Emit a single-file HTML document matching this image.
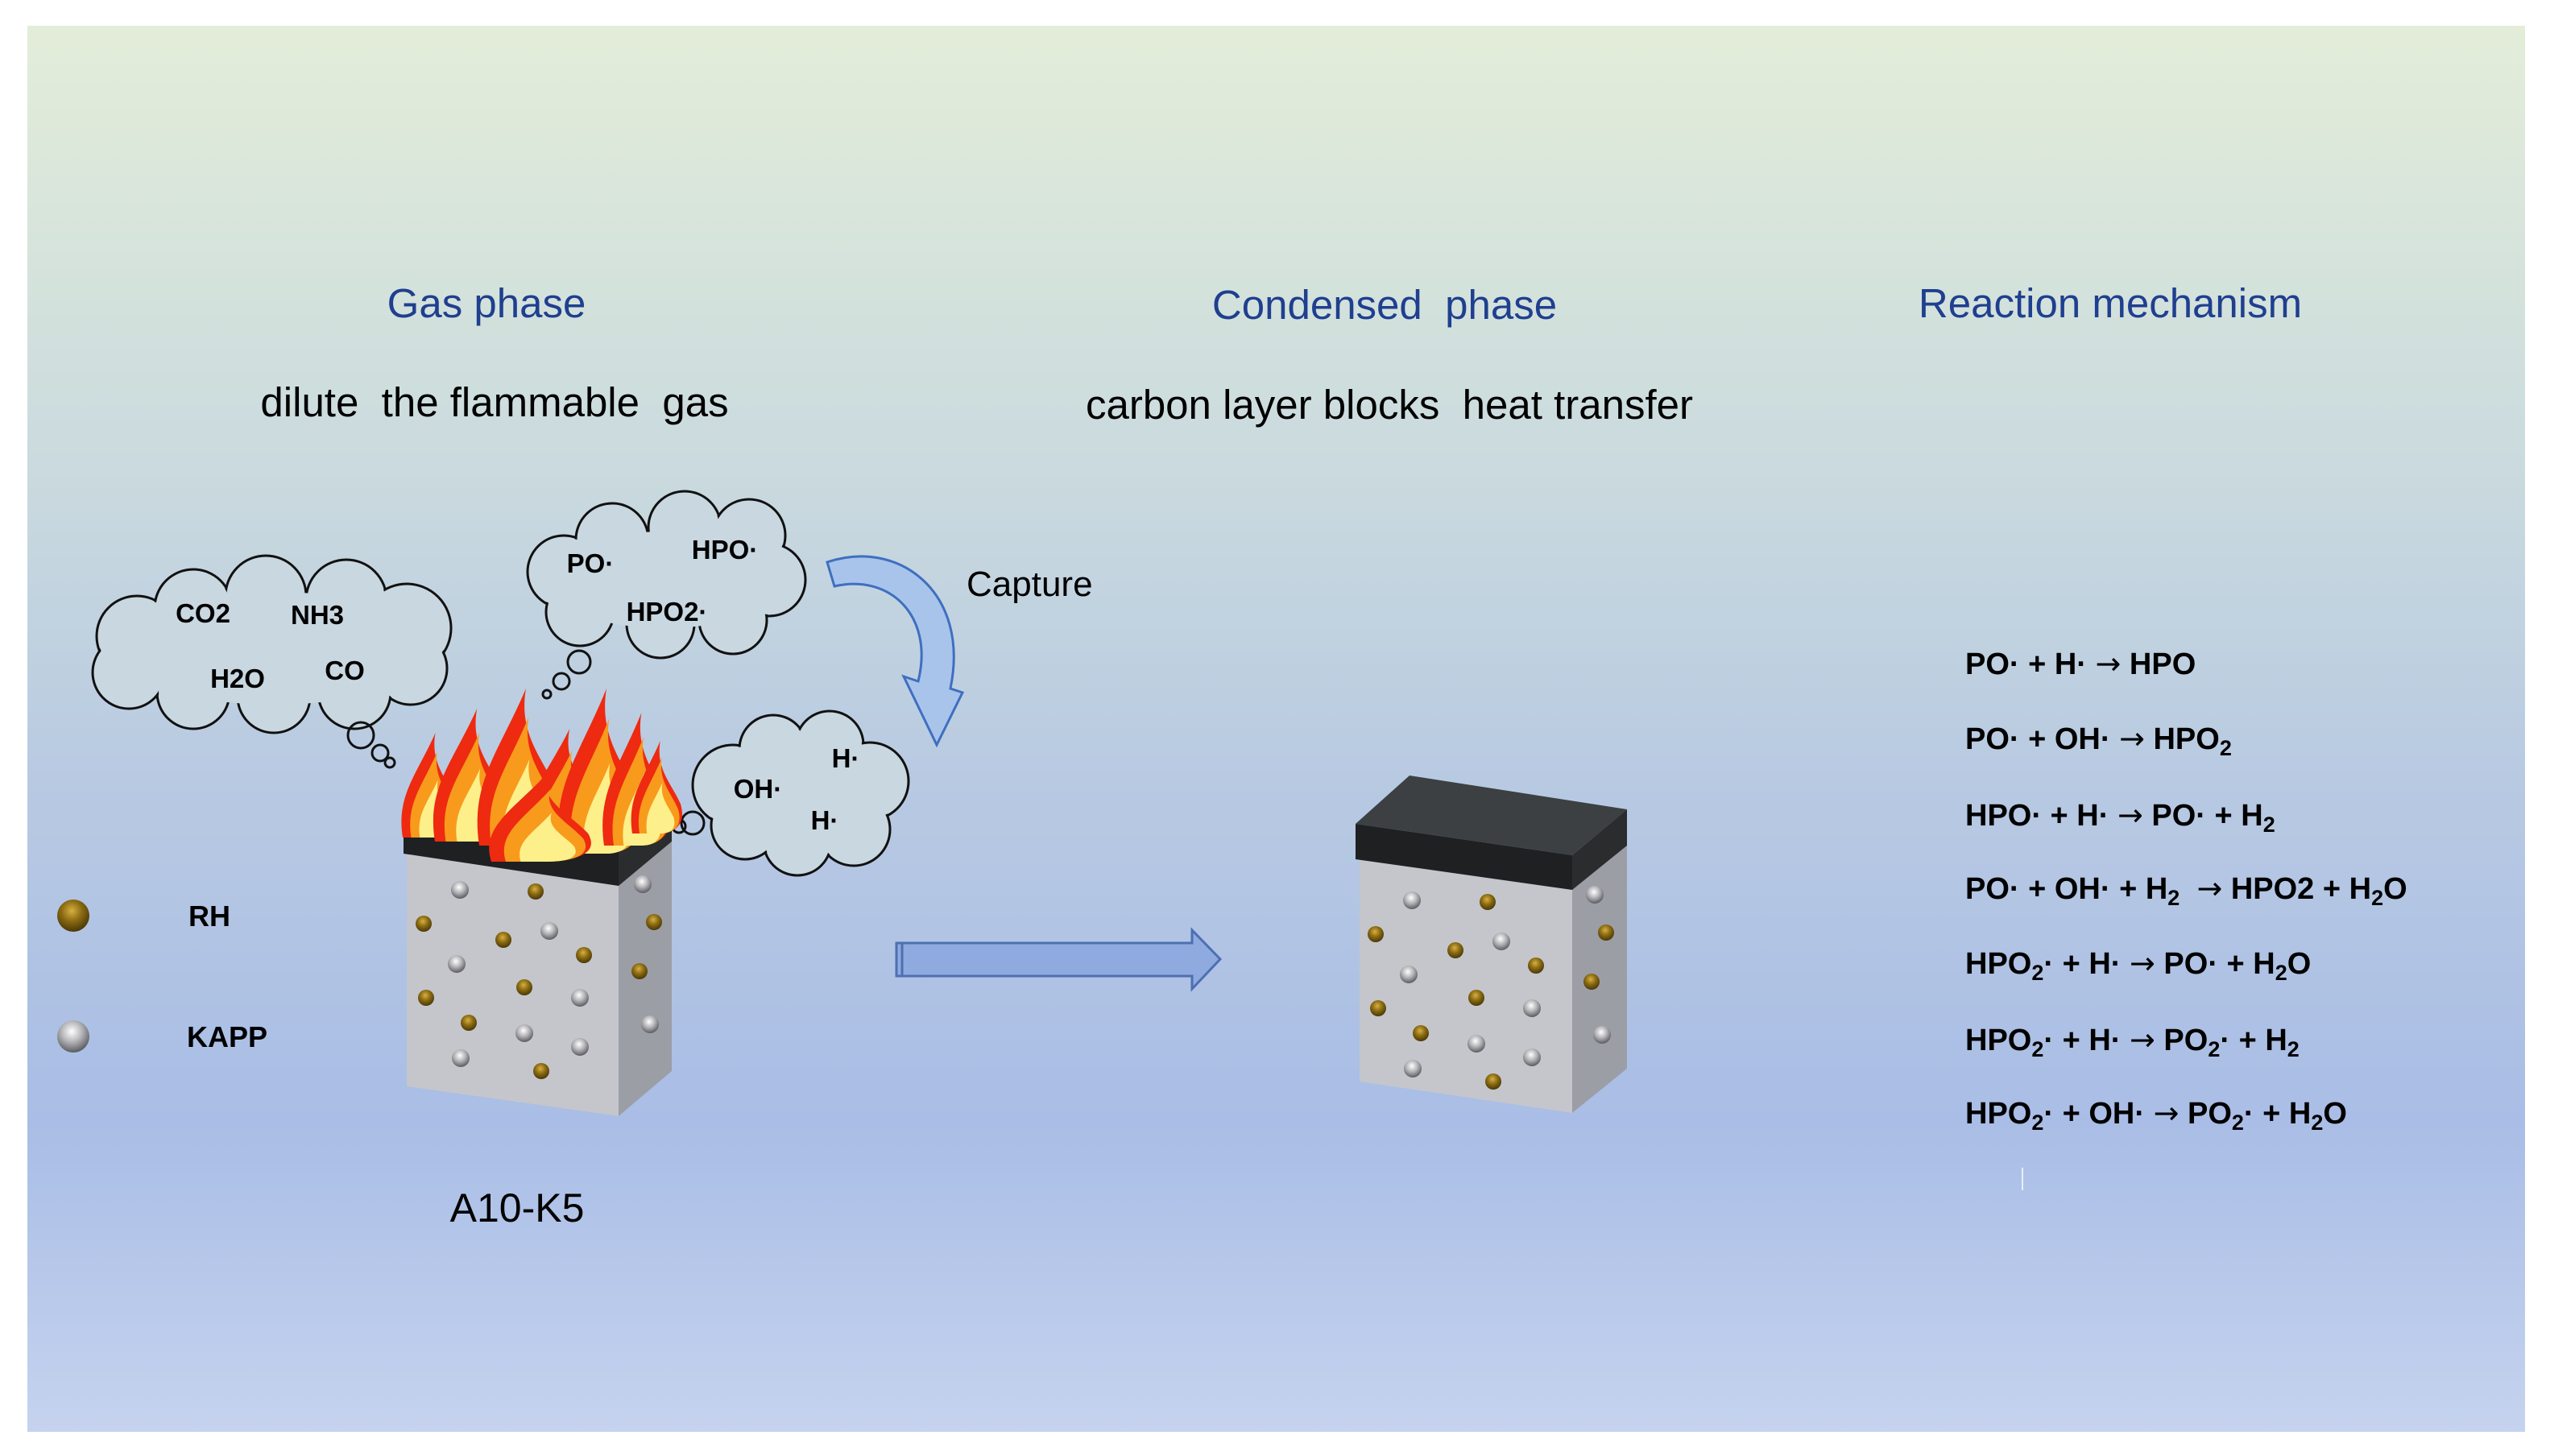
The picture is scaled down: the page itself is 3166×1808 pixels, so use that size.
<!DOCTYPE html>
<html><head><meta charset="utf-8"><style>
html,body{margin:0;padding:0;background:#fff;}
svg{display:block;}
text{font-family:"Liberation Sans",Arial,sans-serif;}
.ar{font-family:"DejaVu Sans",sans-serif;font-weight:normal;}
</style></head><body>
<svg width="3166" height="1808" viewBox="0 0 3166 1808" xmlns="http://www.w3.org/2000/svg">
<defs>
<linearGradient id="bg" x1="0" y1="0" x2="0" y2="1">
<stop offset="0" stop-color="#e3edd9"/>
<stop offset="0.3" stop-color="#cbdbde"/>
<stop offset="0.55" stop-color="#b7c9e2"/>
<stop offset="0.78" stop-color="#a9bde6"/>
<stop offset="1" stop-color="#c5d3ee"/>
</linearGradient>
<radialGradient id="gold" cx="0.45" cy="0.35" r="0.65">
<stop offset="0" stop-color="#d6b040"/><stop offset="0.5" stop-color="#8a6a12"/><stop offset="1" stop-color="#4a3806"/>
</radialGradient>
<radialGradient id="silv" cx="0.45" cy="0.35" r="0.65">
<stop offset="0" stop-color="#ffffff"/><stop offset="0.5" stop-color="#b4b4b8"/><stop offset="1" stop-color="#5a5a60"/>
</radialGradient>
<path id="fl" d="M-0.5,0 C-0.62,-0.4 -0.25,-0.6 0.08,-1 C-0.02,-0.7 0.3,-0.55 0.5,-0.32 C0.62,-0.1 0.4,0 0,0 Z"/>
<g id="flame">
<use href="#fl" fill="#ee2a10"/>
<use href="#fl" fill="#f89a1c" transform="translate(0.05,0) scale(0.8,0.82)"/>
<use href="#fl" fill="#fdf08a" transform="translate(0.08,0) scale(0.55,0.55)"/>
</g>
<g id="dots">
<g fill="url(#gold)">
<circle cx="1847" cy="1120" r="10"/><circle cx="1708" cy="1160" r="10"/><circle cx="1807" cy="1180" r="10"/><circle cx="1907" cy="1199" r="10"/><circle cx="1994" cy="1158" r="10"/><circle cx="1976" cy="1219" r="10"/><circle cx="1833" cy="1239" r="10"/><circle cx="1711" cy="1252" r="10"/><circle cx="1764" cy="1283" r="10"/><circle cx="1854" cy="1343" r="10"/>
</g>
<g fill="url(#silv)">
<circle cx="1753" cy="1118" r="11"/><circle cx="1864" cy="1169" r="11"/><circle cx="1749" cy="1210" r="11"/><circle cx="1980" cy="1111" r="11"/><circle cx="1902" cy="1252" r="11"/><circle cx="1833" cy="1296" r="11"/><circle cx="1989" cy="1285" r="11"/><circle cx="1902" cy="1313" r="11"/><circle cx="1754" cy="1327" r="11"/>
</g>
</g>
</defs>
<rect x="0" y="0" width="3166" height="1808" fill="#fff"/>
<rect x="34" y="32" width="3101" height="1746" fill="url(#bg)"/>

<!-- titles -->
<g fill="#1f3f8f" font-size="51" text-anchor="middle">
<text x="604" y="394">Gas phase</text>
<text x="1719" y="396">Condensed&#160; phase</text>
<text x="2620" y="394">Reaction mechanism</text>
</g>
<g fill="#000" font-size="51" text-anchor="middle">
<text x="614" y="517">dilute&#160; the flammable&#160; gas</text>
<text x="1725" y="520">carbon layer blocks&#160; heat transfer</text>
<text x="1200" y="740" text-anchor="start" font-size="44">Capture</text>
<text x="642" y="1517" font-size="50">A10-K5</text>
</g>

<!-- legend -->
<circle cx="91" cy="1137" r="20" fill="url(#gold)"/>
<circle cx="91" cy="1287" r="20" fill="url(#silv)"/>
<g font-size="36" font-weight="bold" fill="#000">
<text x="234" y="1150">RH</text>
<text x="232" y="1300">KAPP</text>
</g>

<!-- clouds -->
<g stroke="#111" stroke-width="3" fill="#c8d7e0">
<g>
<circle cx="170" cy="790" r="50"/><circle cx="240" cy="755" r="48"/><circle cx="330" cy="740" r="50"/><circle cx="430" cy="745" r="50"/><circle cx="505" cy="780" r="55"/><circle cx="510" cy="830" r="45"/><circle cx="440" cy="860" r="45"/><circle cx="340" cy="865" r="45"/><circle cx="240" cy="860" r="45"/><circle cx="160" cy="835" r="45"/>
</g>
<g>
<circle cx="700" cy="710" r="45"/><circle cx="760" cy="670" r="45"/><circle cx="850" cy="655" r="45"/><circle cx="930" cy="665" r="45"/><circle cx="955" cy="720" r="45"/><circle cx="910" cy="770" r="42"/><circle cx="820" cy="775" r="42"/><circle cx="720" cy="760" r="42"/>
</g>
<g>
<circle cx="910" cy="975" r="50"/><circle cx="960" cy="930" r="42"/><circle cx="1030" cy="925" r="42"/><circle cx="1080" cy="970" r="48"/><circle cx="1060" cy="1030" r="45"/><circle cx="990" cy="1045" r="42"/><circle cx="925" cy="1025" r="42"/>
</g>
</g>
<g fill="#c8d7e0">
<circle cx="170" cy="790" r="48"/><circle cx="240" cy="755" r="46"/><circle cx="330" cy="740" r="48"/><circle cx="430" cy="745" r="48"/><circle cx="505" cy="780" r="53"/><circle cx="510" cy="830" r="43"/><circle cx="440" cy="860" r="43"/><circle cx="340" cy="865" r="43"/><circle cx="240" cy="860" r="43"/><circle cx="160" cy="835" r="43"/>
<ellipse cx="340" cy="805" rx="200" ry="70"/>
<circle cx="700" cy="710" r="43"/><circle cx="760" cy="670" r="43"/><circle cx="850" cy="655" r="43"/><circle cx="930" cy="665" r="43"/><circle cx="955" cy="720" r="43"/><circle cx="910" cy="770" r="40"/><circle cx="820" cy="775" r="40"/><circle cx="720" cy="760" r="40"/>
<ellipse cx="825" cy="720" rx="150" ry="60"/>
<circle cx="910" cy="975" r="48"/><circle cx="960" cy="930" r="40"/><circle cx="1030" cy="925" r="40"/><circle cx="1080" cy="970" r="46"/><circle cx="1060" cy="1030" r="43"/><circle cx="990" cy="1045" r="40"/><circle cx="925" cy="1025" r="40"/>
<ellipse cx="995" cy="985" rx="100" ry="60"/>
</g>
<g stroke="#111" stroke-width="3" fill="none">
<circle cx="448" cy="913" r="16"/><circle cx="472" cy="935" r="10"/><circle cx="484" cy="947" r="6"/>
<circle cx="719" cy="822" r="14"/><circle cx="697" cy="846" r="10"/><circle cx="679" cy="862" r="5"/>
<circle cx="860" cy="1022" r="14"/><circle cx="843" cy="1026" r="8"/>
</g>
<g font-size="33" font-weight="bold" fill="#000" text-anchor="middle">
<text x="252" y="773">CO2</text><text x="394" y="775">NH3</text><text x="295" y="854">H2O</text><text x="428" y="844">CO</text>
<text x="733" y="711">PO·</text><text x="900" y="694">HPO·</text><text x="828" y="771">HPO2·</text>
<text x="941" y="991">OH·</text><text x="1050" y="953">H·</text><text x="1024" y="1030">H·</text>
</g>

<!-- capture arrow -->
<path d="M1027,698 C1115,668 1205,735 1180,855 L1195,860 L1163,925 L1122,840 L1140,846 C1160,765 1105,712 1036,728 Z" fill="#a9c4ea" stroke="#3e6fc0" stroke-width="3"/>

<!-- cube 1 -->
<polygon points="505,1060 768,1100 768,1386 505,1349" fill="#c4c6cc"/>
<polygon points="768,1100 834,1045 834,1330 768,1386" fill="#9c9ea6"/>
<polygon points="501,1010 545,985 834,997 768,1040" fill="#3c4042"/>
<polygon points="501,1010 768,1040 768,1100 501,1060" fill="#1e2022"/>
<polygon points="768,1040 834,997 834,1045 768,1100" fill="#2a2c2e"/>
<use href="#dots" transform="translate(-1182,-13)"/>
<g>
<use href="#flame" transform="translate(535,1040) scale(70,130)"/>
<use href="#flame" transform="translate(585,1045) scale(90,165)"/>
<use href="#flame" transform="translate(645,1050) scale(100,195)"/>
<use href="#flame" transform="translate(700,1055) scale(90,150)"/>
<use href="#flame" transform="translate(745,1060) scale(100,205)"/>
<use href="#flame" transform="translate(790,1050) scale(80,165)"/>
<use href="#flame" transform="translate(815,1035) scale(60,115)"/>
<use href="#flame" transform="translate(670,1070) scale(120,110)"/>
</g>

<!-- big arrow -->
<path d="M1113,1171 L1480,1171 L1480,1155 L1515,1191 L1480,1228 L1480,1212 L1113,1212 Z" fill="#8eaadf" stroke="#4e6fb2" stroke-width="3"/>
<line x1="1120" y1="1171" x2="1120" y2="1212" stroke="#4e6fb2" stroke-width="3"/>

<!-- cube 2 -->
<polygon points="1688,1067 1952,1105 1952,1382 1688,1343" fill="#c4c6cc"/>
<polygon points="1952,1105 2020,1050 2020,1327 1952,1382" fill="#9c9ea6"/>
<polygon points="1683,1023 1750,963 2020,1005 1952,1062" fill="#3c4042"/>
<polygon points="1683,1023 1952,1062 1952,1105 1683,1067" fill="#1e2022"/>
<polygon points="1952,1062 2020,1005 2020,1050 1952,1105" fill="#2a2c2e"/>
<use href="#dots"/>

<!-- equations -->
<g font-size="38" font-weight="bold" fill="#000">
<text x="2440" y="837">PO· + H· <tspan class="ar">→</tspan> HPO</text>
<text x="2440" y="930">PO· + OH· <tspan class="ar">→</tspan> HPO<tspan font-size="27" dy="8">2</tspan></text>
<text x="2440" y="1025">HPO· + H· <tspan class="ar">→</tspan> PO· + H<tspan font-size="27" dy="8">2</tspan></text>
<text x="2440" y="1116">PO· + OH· + H<tspan font-size="27" dy="8">2</tspan><tspan dy="-8">&#160; </tspan><tspan class="ar">→</tspan> HPO2 + H<tspan font-size="27" dy="8">2</tspan><tspan dy="-8">O</tspan></text>
<text x="2440" y="1209">HPO<tspan font-size="27" dy="8">2</tspan><tspan dy="-8">· + H· </tspan><tspan class="ar">→</tspan> PO· + H<tspan font-size="27" dy="8">2</tspan><tspan dy="-8">O</tspan></text>
<text x="2440" y="1304">HPO<tspan font-size="27" dy="8">2</tspan><tspan dy="-8">· + H· </tspan><tspan class="ar">→</tspan> PO<tspan font-size="27" dy="8">2</tspan><tspan dy="-8">· + H</tspan><tspan font-size="27" dy="8">2</tspan></text>
<text x="2440" y="1395">HPO<tspan font-size="27" dy="8">2</tspan><tspan dy="-8">· + OH· </tspan><tspan class="ar">→</tspan> PO<tspan font-size="27" dy="8">2</tspan><tspan dy="-8">· + H</tspan><tspan font-size="27" dy="8">2</tspan><tspan dy="-8">O</tspan></text>
</g>
<line x1="2511" y1="1450" x2="2511" y2="1478" stroke="#e8eef8" stroke-width="2"/>
</svg>
</body></html>
